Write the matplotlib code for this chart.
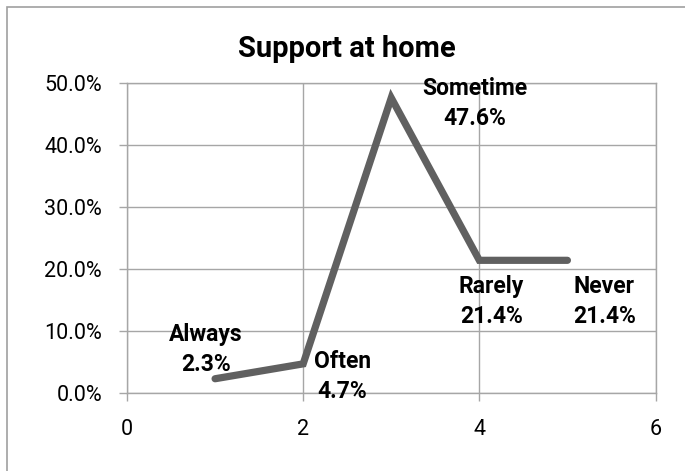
import numpy as np
import matplotlib.pyplot as plt
from matplotlib.patches import Rectangle

plt.rcParams['font.family'] = ['Roboto', 'DejaVu Sans']

# data
xs = [1, 2, 3, 4, 5]
vals = [2.3, 4.7, 47.6, 21.4, 21.4]
names = ['Always', 'Often', 'Sometime', 'Rarely', 'Never']
# label offsets (pixels) from each point
offs = [(-9, 29), (39, -13), (84, -6), (12, -41), (37, -41)]

fig = plt.figure(figsize=(6.85, 4.71), dpi=100)
ax = fig.add_axes([127/685, 78/471, (655.5-127)/685, (393-83)/471])

ax.plot(xs, vals, color='#606060', lw=5.2, solid_capstyle='round', solid_joinstyle='miter', zorder=3)

for x, v, n, o in zip(xs, vals, names, offs):
    ax.annotate(n + '\n' + '%.1f%%' % v, (x, v), xytext=o, textcoords='offset pixels',
                ha='center', va='center', fontsize=16.5, fontweight='bold',
                linespacing=1.4, zorder=4)

ax.set_xlim(0, 6)
ax.set_ylim(0, 50)
ax.set_xticks([0, 2, 4, 6])
ax.set_yticks(np.arange(0, 51, 10))
ax.set_yticklabels(['%.1f%%' % t for t in np.arange(0, 51, 10)])
ax.grid(True, color='#a6a6a6', lw=1)
ax.set_axisbelow(True)
for s in ax.spines.values():
    s.set_color('#a6a6a6')
    s.set_linewidth(1)
ax.tick_params(axis='both', length=6, width=1, color='#a6a6a6', labelsize=15.5, direction='out')
ax.tick_params(axis='y', pad=12)
ax.tick_params(axis='x', pad=13)

fig.text(347/685, 1 - 57/471, 'Support at home', ha='center', va='baseline',
         fontsize=21, fontweight='bold')

fig.patches.append(Rectangle((7/685, -0.1), 1.2, (471-7)/471 + 0.1, transform=fig.transFigure,
                             fill=False, edgecolor='#a0a0a0', lw=1.2, clip_on=False))

fig.savefig('out.png', dpi=100)
